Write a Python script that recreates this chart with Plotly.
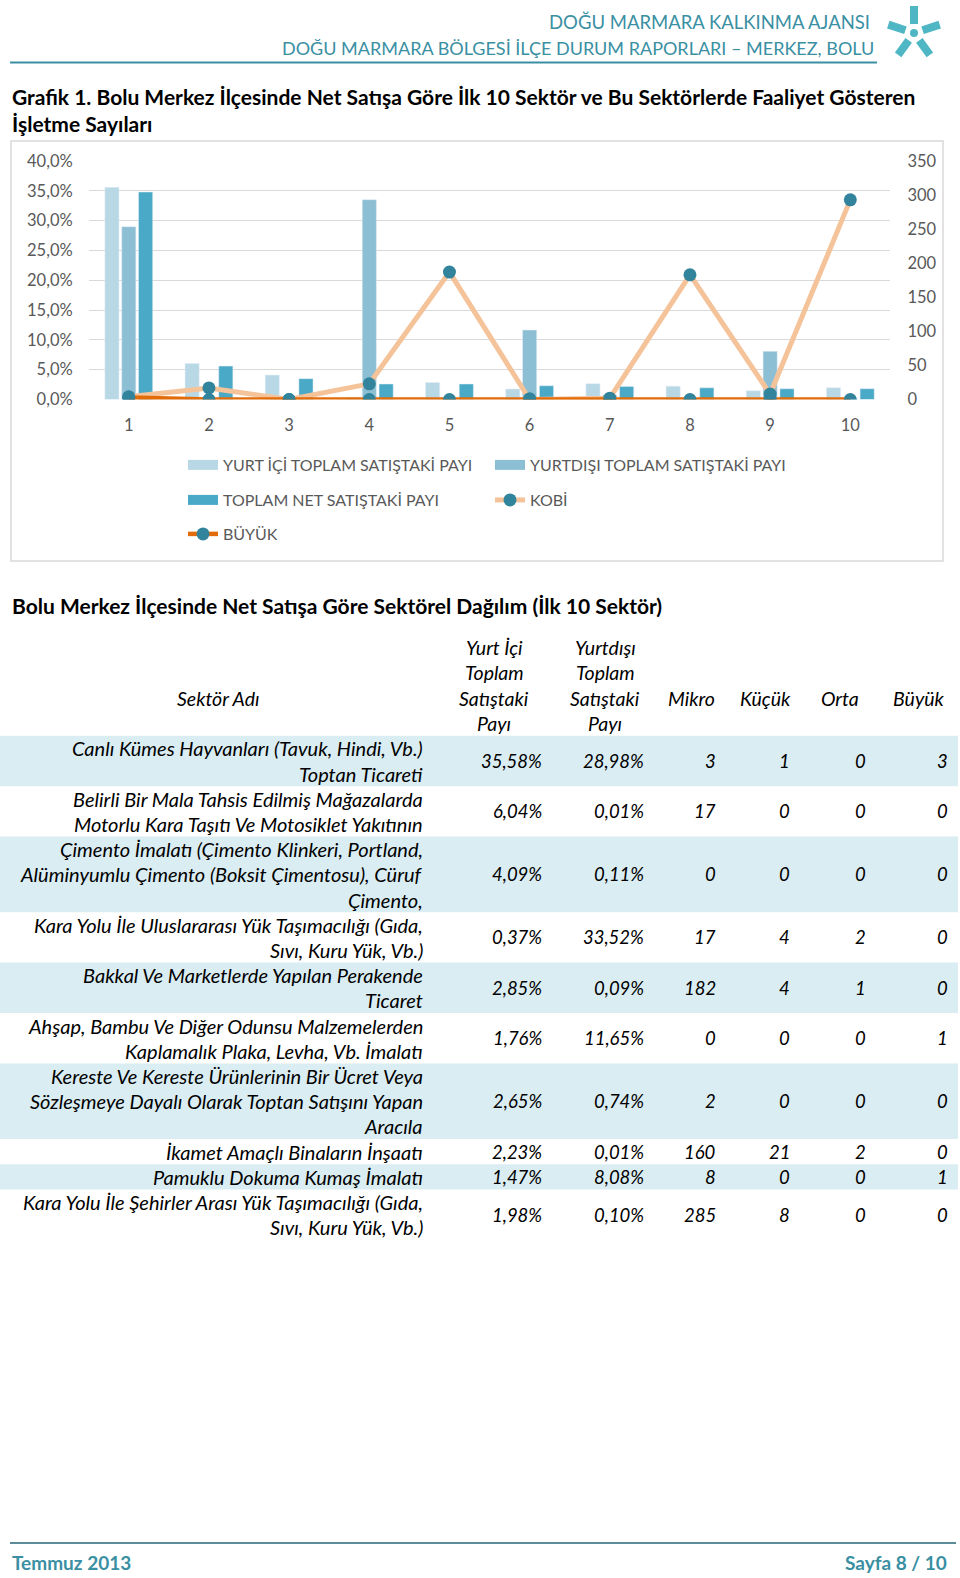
import math
import plotly.graph_objects as go

W, H = 960, 1578

# ---- data ----
sira = ["1", "2", "3", "4", "5", "6", "7", "8", "9", "10"]
yurt_ici_pay = [35.58, 6.04, 4.09, 0.37, 2.85, 1.76, 2.65, 2.23, 1.47, 1.98]
yurt_disi_pay = [28.98, 0.01, 0.11, 33.52, 0.09, 11.65, 0.74, 0.01, 8.08, 0.10]
toplam_net_pay = [34.8, 5.6, 3.5, 2.6, 2.6, 2.3, 2.2, 1.95, 1.8, 1.8]
kobi = [4, 17, 0, 23, 187, 0, 2, 183, 8, 293]
mikro = [3, 17, 0, 17, 182, 0, 2, 160, 8, 285]
kucuk = [1, 0, 0, 4, 4, 0, 0, 21, 0, 8]
orta = [0, 0, 0, 2, 1, 0, 0, 2, 0, 0]
buyuk = [3, 0, 0, 0, 0, 1, 0, 0, 1, 0]
sektorler = [
    "Canlı Kümes Hayvanları (Tavuk, Hindi, Vb.)<br>Toptan Ticareti",
    "Belirli Bir Mala Tahsis Edilmiş Mağazalarda<br>Motorlu Kara Taşıtı Ve Motosiklet Yakıtının",
    "Çimento İmalatı (Çimento Klinkeri, Portland,<br>Alüminyumlu Çimento (Boksit Çimentosu), Cüruf<br>Çimento,",
    "Kara Yolu İle Uluslararası Yük Taşımacılığı (Gıda,<br>Sıvı, Kuru Yük, Vb.)",
    "Bakkal Ve Marketlerde Yapılan Perakende<br>Ticaret",
    "Ahşap, Bambu Ve Diğer Odunsu Malzemelerden<br>Kaplamalık Plaka, Levha, Vb. İmalatı",
    "Kereste Ve Kereste Ürünlerinin Bir Ücret Veya<br>Sözleşmeye Dayalı Olarak Toptan Satışını Yapan<br>Aracıla",
    "İkamet Amaçlı Binaların İnşaatı",
    "Pamuklu Dokuma Kumaş İmalatı",
    "Kara Yolu İle Şehirler Arası Yük Taşımacılığı (Gıda,<br>Sıvı, Kuru Yük, Vb.)",
]
basliklar = ["Sektör Adı", "Yurt İçi<br>Toplam<br>Satıştaki<br>Payı", "Yurtdışı<br>Toplam<br>Satıştaki<br>Payı",
             "Mikro", "Küçük", "Orta", "Büyük"]

# colours
C_ICI = "#b8d8e6"
C_DISI = "#8dbfd4"
C_NET = "#49a9c6"
C_KOBI = "#f5c39a"
C_BUYUK = "#e36c0a"
C_MARK = "#31849b"
C_TEAL = "#3a8fa3"
GRAY = "#595959"
FONT = "Lato"


def px(x):
    return x / W


def py(y):
    return 1 - y / H


fig = go.Figure()

# ---- chart ----
fig.add_trace(go.Bar(x=sira, y=yurt_ici_pay, marker_color=C_ICI, name="YURT İÇİ TOPLAM SATIŞTAKİ PAYI",
                     showlegend=False))
fig.add_trace(go.Bar(x=sira, y=yurt_disi_pay, marker_color=C_DISI, name="YURTDIŞI TOPLAM SATIŞTAKİ PAYI",
                     showlegend=False))
fig.add_trace(go.Bar(x=sira, y=toplam_net_pay, marker_color=C_NET, name="TOPLAM NET SATIŞTAKİ PAYI",
                     showlegend=False))
fig.add_trace(go.Scatter(x=sira, y=kobi, yaxis="y2", mode="lines+markers", name="KOBİ",
                         line=dict(color=C_KOBI, width=5), marker=dict(size=13, color=C_MARK),
                         legend="legend2"))
fig.add_trace(go.Scatter(x=sira, y=buyuk, yaxis="y2", mode="lines+markers", name="BÜYÜK",
                         line=dict(color=C_BUYUK, width=4.5), marker=dict(size=13, color=C_MARK),
                         legend="legend3"))

# legend swatches for the bar series
for nm, col, lg in [("YURT İÇİ TOPLAM SATIŞTAKİ PAYI", C_ICI, "legend"),
                    ("YURTDIŞI TOPLAM SATIŞTAKİ PAYI", C_DISI, "legend"),
                    ("TOPLAM NET SATIŞTAKİ PAYI", C_NET, "legend2")]:
    fig.add_trace(go.Scatter(x=[None], y=[None], mode="lines", name=nm, line=dict(color=col, width=12),
                             legend=lg, legendrank=1))

# ---- table (hidden axis, units = px / text lines) ----
satir_say = [s.count("<br>") + 1 for s in sektorler]
bas_say = 4
toplam_satir = bas_say + sum(satir_say)
sag_kenar = [542, 644, 716, 790, 866, 948]
bas_merkez = [218, 494, 605, 691, 765, 840, 919]
tfont = dict(family=FONT, size=20, color="black", style="italic")
hfont = dict(family=FONT, size=19.5, color="black", style="italic")
nfont = dict(family=FONT, size=18.5, color="black", style="italic")
nopad = dict(showarrow=False, borderpad=0, borderwidth=0)

ann = []
shapes = []
for j, b in enumerate(basliklar):
    parts = b.split("<br>")
    for k, p in enumerate(parts):
        yy = (bas_say - len(parts)) / 2 + k + 0.5 if len(parts) > 1 else 2.5
        ann.append(dict(nopad, x=bas_merkez[j], y=yy, xref="x3", yref="y3", text=p,
                        xanchor="center", yanchor="middle", font=hfont))

bas = bas_say
for i, s in enumerate(sektorler):
    n = satir_say[i]
    if i % 2 == 0:
        shapes.append(dict(type="rect", xref="x3", yref="y3", x0=0, x1=958, y0=bas, y1=bas + n,
                           fillcolor="#daedf3", line_width=0, layer="below"))
    for k, p in enumerate(s.split("<br>")):
        ann.append(dict(nopad, x=423, y=bas + k + 0.5, xref="x3", yref="y3", text=p,
                        xanchor="right", yanchor="middle", font=tfont))
    vals = [f"{yurt_ici_pay[i]:.2f}".replace(".", ",") + "%",
            f"{yurt_disi_pay[i]:.2f}".replace(".", ",") + "%",
            str(mikro[i]), str(kucuk[i]), str(orta[i]), str(buyuk[i])]
    for j, v in enumerate(vals):
        ann.append(dict(nopad, x=sag_kenar[j], y=bas + n / 2, xref="x3", yref="y3", text=v,
                        xanchor="right", yanchor="middle", font=nfont))
    bas += n

# ---- page texts ----
def txt(x, y, t, size, color, bold=False, anchor="left"):
    ann.append(dict(nopad, x=px(x), y=py(y), xref="paper", yref="paper", text=t,
                    xanchor=anchor, yanchor="middle",
                    font=dict(family=FONT, size=size, color=color, weight="bold" if bold else "normal")))


txt(870, 22, "DOĞU MARMARA KALKINMA AJANSI", 18.5, C_TEAL, anchor="right")
txt(874, 48, "DOĞU MARMARA BÖLGESİ İLÇE DURUM RAPORLARI – MERKEZ, BOLU", 18, C_TEAL, anchor="right")
txt(12, 97, "Grafik 1. Bolu Merkez İlçesinde Net Satışa Göre İlk 10 Sektör ve Bu Sektörlerde Faaliyet Gösteren",
    21, "black", bold=True)
txt(12, 123, "İşletme Sayıları", 21, "black", bold=True)
txt(12, 605, "Bolu Merkez İlçesinde Net Satışa Göre Sektörel Dağılım (İlk 10 Sektör)", 21, "black", bold=True)
txt(12, 1562, "Temmuz 2013", 19, C_TEAL, bold=True)
txt(947, 1562, "Sayfa 8 / 10", 19, C_TEAL, bold=True, anchor="right")

# header / footer rules and chart frame
shapes.append(dict(type="line", xref="paper", yref="paper", x0=px(10), x1=px(877), y0=py(62.5), y1=py(62.5),
                   line=dict(color=C_TEAL, width=2)))
shapes.append(dict(type="line", xref="paper", yref="paper", x0=px(10), x1=px(956), y0=py(1543), y1=py(1543),
                   line=dict(color="#5d8c99", width=2)))
shapes.append(dict(type="rect", xref="paper", yref="paper", x0=px(11), x1=px(943), y0=py(141), y1=py(561),
                   line=dict(color="#d9d9d9", width=1.5), layer="below"))

# logo (simple five-arm mark)
cx, cy = 914, 33
for a in [90, 18, 162, -54, 234]:
    r = math.radians(a)
    shapes.append(dict(type="line", xref="paper", yref="paper",
                       x0=px(cx + 9 * math.cos(r)), y0=py(cy - 9 * math.sin(r)),
                       x1=px(cx + 27 * math.cos(r)), y1=py(cy - 27 * math.sin(r)),
                       line=dict(color="#4fb7c4", width=8)))
shapes.append(dict(type="circle", xref="paper", yref="paper", x0=px(cx - 4), x1=px(cx + 4),
                   y0=py(cy + 4), y1=py(cy - 4), fillcolor="#4fb7c4", line_width=0))

leg = dict(xanchor="left", yanchor="middle", orientation="h", entrywidth=262, entrywidthmode="pixels",
           font=dict(family=FONT, size=16, color=GRAY), bgcolor="rgba(0,0,0,0)", itemwidth=30,
           x=px(183))

axfont = dict(family=FONT, size=16.5, color=GRAY)
fig.update_layout(
    width=W, height=H,
    margin=dict(l=0, r=0, t=0, b=0, autoexpand=False),
    paper_bgcolor="white", plot_bgcolor="white",
    separators=",.",
    barmode="group", bargap=0.37, bargroupgap=0.16,
    xaxis=dict(domain=[px(88.7), px(890.4)], type="category", range=[-0.5, 9.5], showgrid=False,
               showline=False, ticks="", tickfont=axfont, ticklabelstandoff=14, fixedrange=True),
    yaxis=dict(domain=[py(399.5), py(161)], range=[0, 40], dtick=5, tickformat=".1f", ticksuffix="%",
               showgrid=True, gridcolor="#d9d9d9", gridwidth=1.3, zeroline=False, showline=False,
               tickfont=axfont, ticklabelstandoff=15),
    yaxis2=dict(overlaying="y", side="right", range=[0, 350], dtick=50, showgrid=False, zeroline=False,
                showline=False, tickfont=axfont, ticklabelstandoff=16),
    xaxis3=dict(domain=[0, 1], range=[0, W], visible=False, anchor="y3"),
    yaxis3=dict(domain=[py(635 + toplam_satir * 25.2), py(635)], range=[toplam_satir, 0], visible=False,
                anchor="x3"),
    legend=dict(leg, y=py(465)),
    legend2=dict(leg, y=py(500)),
    legend3=dict(leg, y=py(534)),
    annotations=ann,
    shapes=shapes,
    font=dict(family=FONT),
)

fig.write_html("out.html", config={"displayModeBar": False},
               post_script="document.body.style.margin='0px';document.body.style.overflow='hidden';")
